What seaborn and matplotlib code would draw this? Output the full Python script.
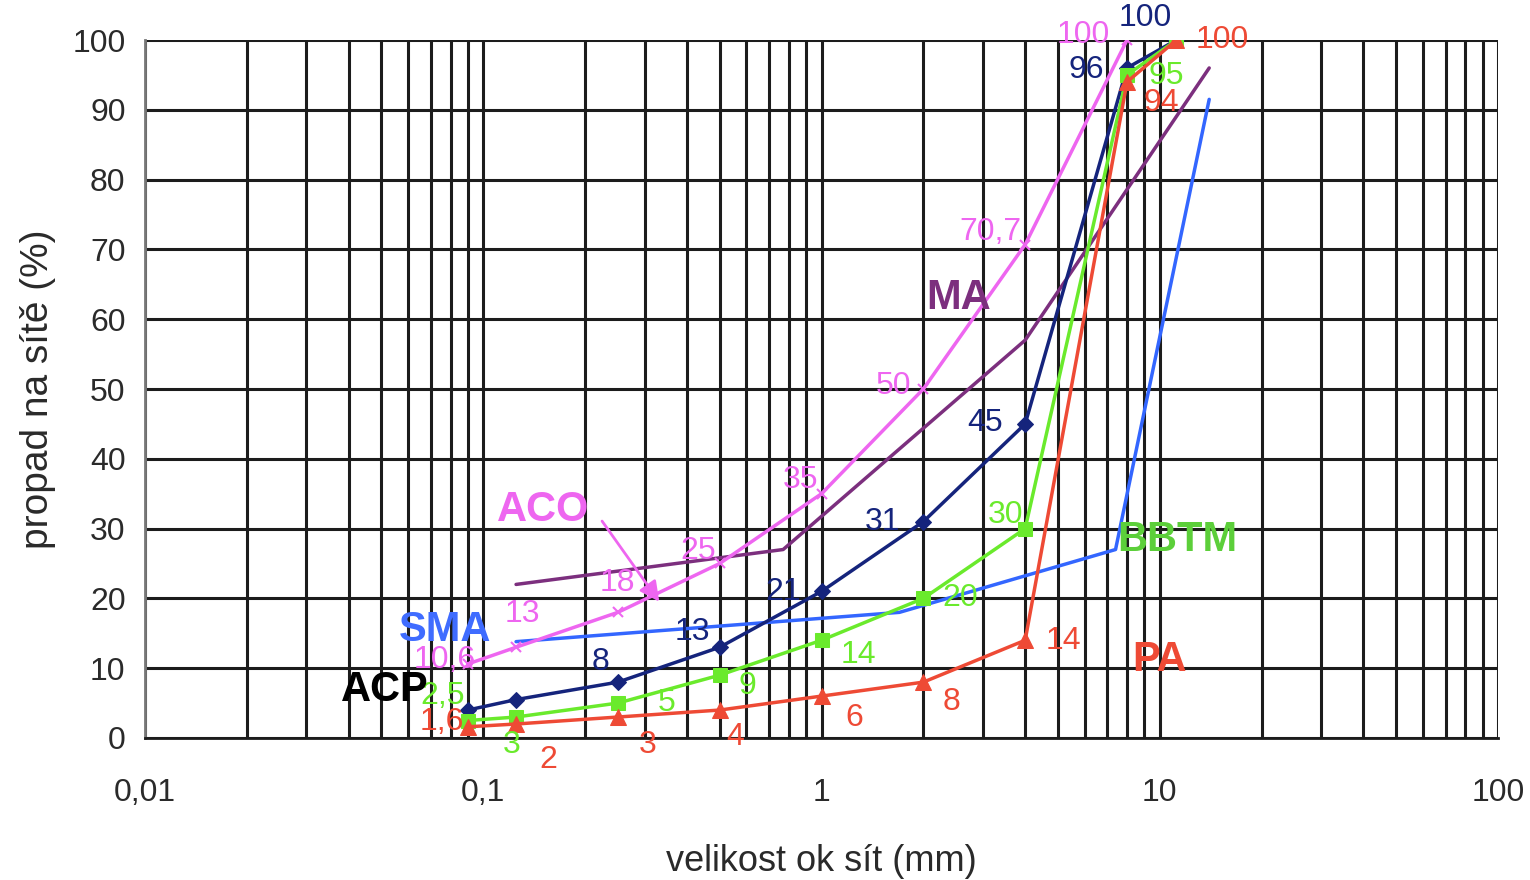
import numpy as np
import pandas as pd
import matplotlib
matplotlib.use("Agg")
import matplotlib.pyplot as plt
import matplotlib.ticker as mticker
import seaborn as sns

sns.set_style("white")
plt.rcParams['font.family'] = ['Liberation Sans', 'DejaVu Sans']

# sieve sizes (mm)
sieve = [0.09, 0.125, 0.25, 0.5, 1, 2, 4, 8, 11.2]

# ACO (pink, x markers)
aco_y = [10.6, 13, 18, 25, 35, 50, 70.7, 100]
aco_lab = ['10,6', '13', '18', '25', '35', '50', '70,7', '100']
aco_off = [(-23, 4), (6, 33), (-1, 29), (-22, 12), (-21, 14), (-30, 3), (-35, 13), (-44, 5)]

# ACP (navy, diamonds)
acp_y = [4, 5.5, 8, 13, 21, 31, 45, 96, 100]
acp_lab = [None, None, '8', '13', '21', '31', '45', '96', '100']
acp_off = [(0, 0), (0, 0), (-17, 20), (-27, 15), (-38, -1), (-41, 0), (-40, 1), (-41, -2), (-31, 22)]

# BBTM (green, squares)
bbtm_y = [2.5, 3, 5, 9, 14, 20, 30, 95, 100]
bbtm_lab = ['2,5', '3', '5', '9', '14', '20', '30', '95', None]
bbtm_off = [(-25, 25), (-4, -28), (49, 0), (28, -11), (37, -15), (37, 0), (-20, 14), (39, -1), (0, 0)]

# PA (red, triangles)
pa_y = [1.6, 2, 3, 4, 6, 8, 14, 94, 100]
pa_lab = ['1,6', '2', '3', '4', '6', '8', '14', '94', '100']
pa_off = [(-26, 5), (32, -36), (30, -28), (15, -27), (33, -22), (28, -20), (38, -1), (34, -21), (46, 0)]

# MA envelope (purple) and SMA envelope (blue), no markers
ma_x = [0.125, 0.77, 4, 14]
ma_y = [22, 27, 57, 96]
sma_x = [0.125, 1.7, 7.4, 14]
sma_y = [13.8, 18, 27, 91.5]

c_pink = '#ee66f0'
c_navy = '#15247c'
c_green = '#6aea2c'
c_red = '#ee4a35'
c_purple = '#7c2f7e'
c_blue = '#3366ff'

fig = plt.figure(figsize=(15.3, 8.8), dpi=100)
ax = fig.add_axes([0.0948, 0.1614, 0.8843, 0.7931])

ax.set_xscale('log')
ax.set_xlim(0.01, 100)
ax.set_ylim(0, 100)
ax.set_yticks(np.arange(0, 101, 10))
ax.xaxis.set_major_locator(mticker.LogLocator(base=10, numticks=10))
ax.xaxis.set_minor_locator(mticker.LogLocator(base=10, subs=np.arange(2, 10), numticks=20))
ax.xaxis.set_minor_formatter(mticker.NullFormatter())
ax.xaxis.set_major_formatter(mticker.FuncFormatter(lambda v, p: ('%g' % v).replace('.', ',')))
ax.grid(True, which='both', axis='x', color='#1c1c1c', lw=2.2)
ax.grid(True, which='major', axis='y', color='#1c1c1c', lw=2.2)
ax.set_axisbelow(True)

sns.lineplot(x=ma_x, y=ma_y, color=c_purple, lw=2.5, sort=False, ax=ax)
sns.lineplot(x=sma_x, y=sma_y, color=c_blue, lw=2.5, sort=False, ax=ax)
sns.lineplot(x=sieve[:len(aco_y)], y=aco_y, color=c_pink, lw=2.5, marker='x', ms=7,
             mew=1.5, mec=c_pink, sort=False, ax=ax)
sns.lineplot(x=sieve, y=acp_y, color=c_navy, lw=2.5, marker='D', ms=8, mec=c_navy,
             sort=False, ax=ax)
sns.lineplot(x=sieve, y=bbtm_y, color=c_green, lw=2.5, marker='s', ms=10, mec=c_green,
             sort=False, ax=ax)
sns.lineplot(x=sieve, y=pa_y, color=c_red, lw=2.5, marker='^', ms=11, mec=c_red,
             sort=False, ax=ax)


def label_points(xs, ys, labs, offs, color):
    for xv, yv, lab, off in zip(xs, ys, labs, offs):
        if lab is None:
            continue
        ax.annotate(lab, (xv, yv), xytext=off, textcoords='offset pixels',
                    ha='center', va='center', color=color, fontsize=23,
                    annotation_clip=False)


label_points(sieve, aco_y, aco_lab, aco_off, c_pink)
label_points(sieve, acp_y, acp_lab, acp_off, c_navy)
label_points(sieve, bbtm_y, bbtm_lab, bbtm_off, c_green)
label_points(sieve, pa_y, pa_lab, pa_off, c_red)

# series names
big = dict(fontsize=30, fontweight='bold', ha='center', va='center')
ax.text(0.150, 32.7, 'ACO', color=c_pink, **big)
ax.text(0.077, 15.5, 'SMA', color='#3f6cff', **big)
ax.text(0.051, 6.9, 'ACP', color='black', **big)
ax.text(2.54, 63.0, 'MA', color=c_purple, **big)
ax.text(11.3, 28.4, 'BBTM', color='#5ccf3a', **big)
ax.text(10.0, 11.2, 'PA', color=c_red, **big)
ax.annotate('', xy=(0.335, 19.2), xytext=(0.222, 31.4),
            arrowprops=dict(arrowstyle='-|>', color=c_pink, lw=2, mutation_scale=30))

for s in ['top', 'right']:
    ax.spines[s].set_visible(False)
ax.spines['left'].set_color('#777777')
ax.spines['left'].set_linewidth(2)
ax.spines['bottom'].set_color('#1c1c1c')
ax.spines['bottom'].set_linewidth(2)
ax.tick_params(axis='y', which='major', direction='out', length=8, width=1.5,
               color='#555555', labelsize=23, labelcolor='#2a2a2a', pad=6)
ax.tick_params(axis='x', which='major', direction='out', length=9, width=1.5,
               color='#555555', labelsize=23, labelcolor='#2a2a2a', pad=20)
ax.tick_params(axis='x', which='minor', length=0)

ax.set_xlabel('velikost ok sít (mm)', fontsize=26, color='#2a2a2a', labelpad=26)
ax.set_ylabel('propad na sítě (%)', fontsize=28, color='#2a2a2a', labelpad=12)

fig.savefig('out.png', dpi=100)
